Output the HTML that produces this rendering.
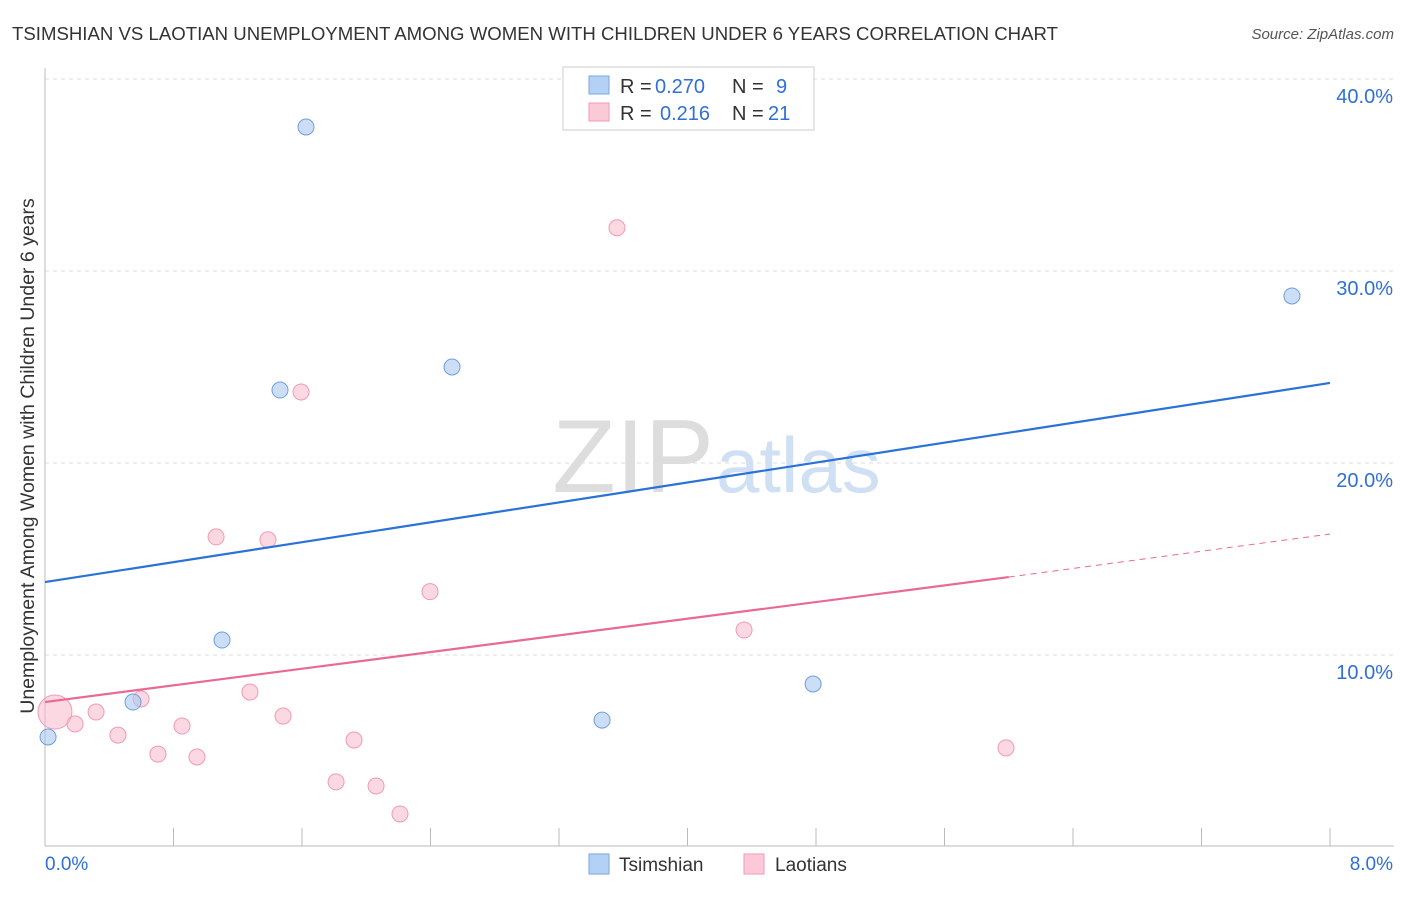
<!DOCTYPE html>
<html><head><meta charset="utf-8"><style>
body{margin:0;background:#fff;font-family:"Liberation Sans",sans-serif;}
svg text{font-family:"Liberation Sans",sans-serif;}
</style></head><body>
<svg id="chart" width="1406" height="892">
<text x="12" y="40" font-size="18" fill="#333" textLength="1046" lengthAdjust="spacingAndGlyphs">TSIMSHIAN VS LAOTIAN UNEMPLOYMENT AMONG WOMEN WITH CHILDREN UNDER 6 YEARS CORRELATION CHART</text>
<text x="1394" y="39" font-size="15" fill="#555" font-style="italic" text-anchor="end">Source: ZipAtlas.com</text>
<text x="714" y="492" font-size="104" fill="#ddd" text-anchor="end" font-family="Liberation Serif">ZIP</text>
<text x="716" y="492" font-size="78" fill="#cfe0f4">atlas</text>
<text transform="translate(34,456) rotate(-90)" font-size="19.5" fill="#333" text-anchor="middle">Unemployment Among Women with Children Under 6 years</text>
<g id="grid"></g><g id="marks"></g>
<g>
<rect x="563" y="67" width="251" height="63" fill="#fff" stroke="#ccc"/>
<rect x="589" y="76" width="20" height="18" fill="#b3d0f5" stroke="#7aa7e0"/>
<rect x="589" y="103" width="20" height="18" fill="#fcc9d8" stroke="#f19ab5"/>
<text y="93" font-size="20" fill="#333"><tspan x="620">R =</tspan><tspan x="655" fill="#2f6fd6">0.270</tspan><tspan x="732">N =</tspan><tspan x="776" fill="#2f6fd6">9</tspan></text>
<text y="120" font-size="20" fill="#333"><tspan x="620">R =</tspan><tspan x="660" fill="#2f6fd6">0.216</tspan><tspan x="732">N =</tspan><tspan x="768" fill="#2f6fd6">21</tspan></text>
</g>
<g>
<rect x="589" y="854" width="20" height="20" fill="#b3d0f5" stroke="#7aa7e0"/>
<text x="619" y="871" font-size="19" fill="#333">Tsimshian</text>
<rect x="744" y="854" width="20" height="20" fill="#fcc9d8" stroke="#f19ab5"/>
<text x="775" y="871" font-size="19" fill="#333">Laotians</text>
</g>
</svg>
<script>
const yTicks=[10,20,30,40];
const yTickLabels=["10.0%","20.0%","30.0%","40.0%"];
const tsX=[0.019,0.548,1.102,1.463,1.625,2.534,3.468,4.782,7.763];
const tsY=[5.73,7.55,10.78,23.8,37.5,25.0,6.61,8.49,28.7];
const laX=[0.062,0.187,0.318,0.454,0.598,0.703,0.853,0.946,1.065,1.276,1.388,1.482,1.594,1.812,1.924,2.061,2.210,2.397,3.561,4.352,5.983];
const laY=[7.03,6.41,7.03,5.83,7.71,4.84,6.30,4.69,16.15,8.07,16.0,6.82,23.7,3.39,5.57,3.18,1.72,13.3,32.25,11.3,5.16];
const tsTrend=[13.8,24.17];
const laTrend=[7.55,14.06,16.3];
const laSolidEnd=6.0;
const X=v=>45+v/8*1285, Y=v=>847-v*19.2;
const NS="http://www.w3.org/2000/svg";
function mk(t,a,p){const e=document.createElementNS(NS,t);for(const k in a)e.setAttribute(k,a[k]);p.appendChild(e);return e;}
const g=document.getElementById('grid'),m=document.getElementById('marks');
yTicks.forEach((t,i)=>{
 const l=mk('line',{x1:45,x2:1394,y1:Y(t),y2:Y(t),stroke:'#ddd','stroke-dasharray':'4,4'},g);
 
 
 const tx=mk('text',{x:1393,y:Y(t)+24,'font-size':20,fill:'#2f6fd6','text-anchor':'end'},g);
 tx.textContent=yTickLabels[i];
 
 
});
const gl=mk('line',{x1:45,x2:1394,y1:79,y2:79,stroke:'#ddd','stroke-dasharray':'4,4'},g);


const xa=mk('line',{x1:45,x2:1394,y1:846,y2:846,stroke:'#bbb'},g);


const ya=mk('line',{x1:45,x2:45,y1:68,y2:846,stroke:'#bbb'},g);


for(let i=0;i<=10;i++){const t=mk('line',{x1:X(i*0.8),x2:X(i*0.8),y1:828,y2:846,stroke:'#bbb'},g);
 
 }
[["0.0%",45,"start"],["8.0%",1393,"end"]].forEach(d=>{const t=mk('text',{x:d[1],y:870,'font-size':19,fill:'#2f6fd6','text-anchor':d[2]},g);t.textContent=d[0];
 
 });
laX.forEach((x,i)=>{const c=mk('circle',{cx:X(x),cy:Y(laY[i]),r:i==0?17:8,fill:'rgba(249,184,204,0.55)',stroke:'#f19ab5','stroke-width':1},m);
 
 });
tsX.forEach((x,i)=>{const c=mk('circle',{cx:X(x),cy:Y(tsY[i]),r:8,fill:'rgba(170,200,240,0.6)',stroke:'#6e9fe0','stroke-width':1},m);
 
 });
const bt=mk('line',{x1:X(0),y1:Y(tsTrend[0]),x2:X(8),y2:Y(tsTrend[1]),stroke:'#2a72d6','stroke-width':2.2},m);


const pt=mk('line',{x1:X(0),y1:Y(laTrend[0]),x2:X(laSolidEnd),y2:Y(laTrend[1]),stroke:'#e86a93','stroke-width':2.2},m);


const pd=mk('line',{x1:X(laSolidEnd),y1:Y(laTrend[1]),x2:X(8),y2:Y(laTrend[2]),stroke:'#e86a93','stroke-width':1,'stroke-dasharray':'6,5'},m);


</script>
</body></html>
